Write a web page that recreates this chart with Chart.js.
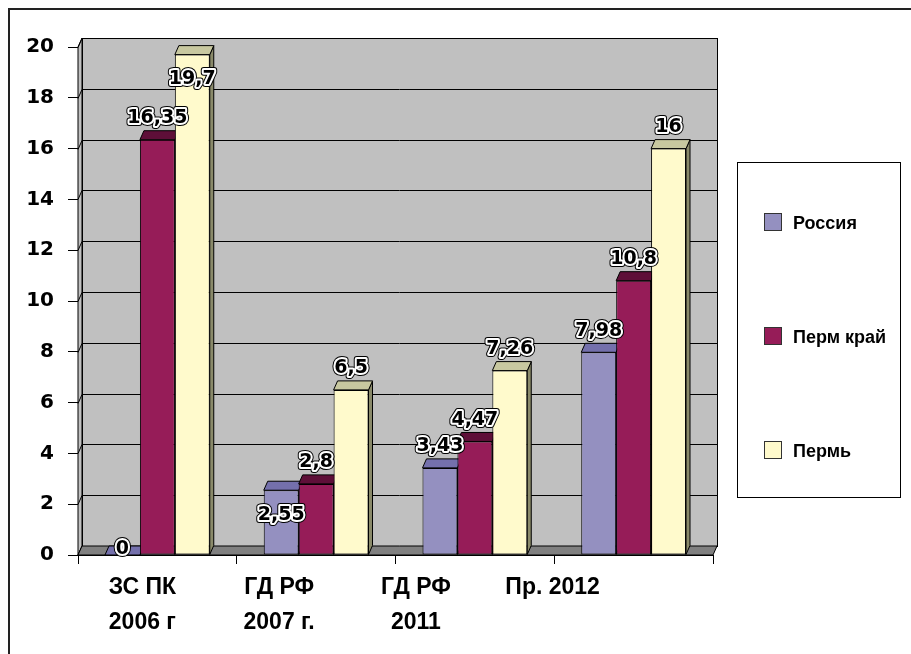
<!DOCTYPE html>
<html>
<head>
<meta charset="utf-8">
<script src="https://cdn.jsdelivr.net/npm/chart.js@4/dist/chart.umd.min.js"></script>
<style>
  html, body { margin: 0; padding: 0; background: #fff; }
  #wrap { width: 911px; height: 654px; }
</style>
</head>
<body>
<div id="wrap"><canvas id="barChart" width="911" height="654"></canvas></div>
<script>
// categories (two-line labels) and series
const categories = [["ЗС ПК", "2006 г"], ["ГД РФ", "2007 г."], ["ГД РФ", "2011"], ["Пр. 2012"]];
const seriesNames = ["Россия", "Перм край", "Пермь"];
const russia = [0, 2.55, 3.43, 7.98];
const permKrai = [16.35, 2.8, 4.47, 10.8];
const perm = [19.7, 6.5, 7.26, 16];
const yTicks = [0, 2, 4, 6, 8, 10, 12, 14, 16, 18, 20];

// colours: front, top, side
const fronts = ["#9490c0", "#961c58", "#fffacc"];
const tops = ["#7470ac", "#5e0f38", "#c8c8a0"];
const sides = ["#625f92", "#4a0a2b", "#8a8a6a"];

const DX = 4, DY = 9; // depth of the fake 3D
const LABEL_FONT = "bold 19px 'DejaVu Sans'";

// white page + frame lines
const framePlugin = {
  id: "frame",
  beforeDraw(chart) {
    const ctx = chart.ctx;
    ctx.save();
    ctx.fillStyle = "#fff";
    ctx.fillRect(0, 0, chart.width, chart.height);
    ctx.strokeStyle = "#222";
    ctx.lineWidth = 2;
    ctx.beginPath();
    ctx.moveTo(9, chart.height);
    ctx.lineTo(9, 9);
    ctx.lineTo(chart.width, 9);
    ctx.stroke();
    ctx.restore();
  }
};

// back wall, floor and gridlines
const wallPlugin = {
  id: "wall",
  beforeDatasetsDraw(chart) {
    const ctx = chart.ctx;
    const { left, right, top, bottom } = chart.chartArea;
    const y = chart.scales.y;
    ctx.save();
    ctx.lineWidth = 1;
    ctx.strokeStyle = "#000";
    // back wall
    ctx.fillStyle = "#c0c0c0";
    ctx.fillRect(left + DX, top - DY, right - left, bottom - top);
    ctx.strokeRect(left + DX + 0.5, top - DY + 0.5, right - left, bottom - top);
    // side wall
    ctx.beginPath();
    ctx.moveTo(left, top);
    ctx.lineTo(left + DX, top - DY);
    ctx.lineTo(left + DX, bottom - DY);
    ctx.lineTo(left, bottom);
    ctx.closePath();
    ctx.fill();
    ctx.stroke();
    // gridlines
    yTicks.forEach(v => {
      const py = Math.round(y.getPixelForValue(v)) + 0.5;
      ctx.beginPath();
      ctx.moveTo(left, py);
      ctx.lineTo(left + DX, py - DY);
      ctx.lineTo(right + DX, py - DY);
      ctx.stroke();
    });
    // floor
    ctx.fillStyle = "#808080";
    ctx.beginPath();
    ctx.moveTo(left, bottom);
    ctx.lineTo(left + DX, bottom - DY);
    ctx.lineTo(right + DX, bottom - DY);
    ctx.lineTo(right, bottom);
    ctx.closePath();
    ctx.fill();
    ctx.stroke();

    // top and side faces of the bars, drawn before the fronts
    chart.data.datasets.forEach((ds, di) => {
      const meta = chart.getDatasetMeta(di);
      meta.data.forEach(bar => {
        const x0 = bar.x - bar.width / 2, x1 = bar.x + bar.width / 2;
        const yt = bar.y, yb = bar.base;
        ctx.fillStyle = sides[di];
        ctx.beginPath();
        ctx.moveTo(x1, yt);
        ctx.lineTo(x1 + DX, yt - DY);
        ctx.lineTo(x1 + DX, yb - DY);
        ctx.lineTo(x1, yb);
        ctx.closePath();
        ctx.fill();
        ctx.stroke();
        ctx.fillStyle = tops[di];
        ctx.beginPath();
        ctx.moveTo(x0, yt);
        ctx.lineTo(x0 + DX, yt - DY);
        ctx.lineTo(x1 + DX, yt - DY);
        ctx.lineTo(x1, yt);
        ctx.closePath();
        ctx.fill();
        ctx.stroke();
      });
    });
    ctx.restore();
  }
};

// value labels with a halo; a label that would leave the plot or hit the
// next bar's label is put inside its bar instead
const labelPlugin = {
  id: "valueLabels",
  afterDatasetsDraw(chart) {
    const ctx = chart.ctx;
    const top = chart.chartArea.top;
    ctx.save();
    ctx.font = LABEL_FONT;
    ctx.textAlign = "center";
    ctx.textBaseline = "bottom";
    ctx.lineJoin = "round";
    const n = chart.data.datasets.length;
    const box = (bar, txt) => {
      const w = ctx.measureText(txt).width;
      const b = bar.y - 12;
      return { l: bar.x - w / 2, r: bar.x + w / 2, t: b - 16, b: b };
    };
    const fmt = v => String(v).replace(".", ",");
    chart.data.datasets.forEach((ds, di) => {
      chart.getDatasetMeta(di).data.forEach((bar, i) => {
        const txt = fmt(ds.data[i]);
        const me = box(bar, txt);
        let inside = me.t < top - DY;
        if (di + 1 < n) {
          const nb = chart.getDatasetMeta(di + 1).data[i];
          const other = box(nb, fmt(chart.data.datasets[di + 1].data[i]));
          if (me.r > other.l && me.l < other.r && me.b > other.t && me.t < other.b) inside = true;
        }
        let ty = inside ? bar.y + 34 : bar.y - 12;
        if (ds.data[i] === 0) ty = bar.y + 4; // empty bar: label sits on the floor
        ctx.lineWidth = 6;
        ctx.strokeStyle = "#000";
        ctx.strokeText(txt, bar.x, ty);
        ctx.lineWidth = 4;
        ctx.strokeStyle = "#fff";
        ctx.strokeText(txt, bar.x, ty);
        ctx.fillStyle = "#000";
        ctx.fillText(txt, bar.x, ty);
      });
    });
    ctx.restore();
  }
};

// category labels, shifted like the perspective of the original
const xLabelPlugin = {
  id: "xLabels",
  afterDraw(chart) {
    const ctx = chart.ctx;
    const x = chart.scales.x;
    ctx.save();
    ctx.font = "bold 23px 'Liberation Sans', Arial";
    ctx.textAlign = "center";
    ctx.textBaseline = "middle";
    ctx.fillStyle = "#000";
    categories.forEach((lines, i) => {
      const cx = x.getPixelForValue(i) - 15 - 22 * i;
      lines.forEach((t, k) => ctx.fillText(t, cx, x.top + 33 + k * 35));
    });
    ctx.restore();
  }
};

// boxed legend on the right
const legendPlugin = {
  id: "boxLegend",
  afterDraw(chart) {
    const ctx = chart.ctx;
    ctx.save();
    ctx.strokeStyle = "#000";
    ctx.lineWidth = 1;
    ctx.strokeRect(737.5, 162.5, 163, 335);
    ctx.font = "bold 18px 'Liberation Sans', Arial";
    ctx.textBaseline = "middle";
    seriesNames.forEach((name, i) => {
      const cy = 222 + i * 114;
      ctx.fillStyle = fronts[i];
      ctx.fillRect(764, cy - 9, 18, 18);
      ctx.strokeStyle = "#333";
      ctx.strokeRect(764.5, cy - 8.5, 17, 17);
      ctx.fillStyle = "#000";
      ctx.fillText(name, 793, cy + 2);
    });
    ctx.restore();
  }
};

new Chart(document.getElementById("barChart").getContext("2d"), {
  type: "bar",
  data: {
    labels: categories,
    datasets: seriesNames.map((name, i) => ({
      label: name,
      data: [russia, permKrai, perm][i],
      backgroundColor: fronts[i],
      borderColor: "#000",
      borderWidth: 1,
      borderSkipped: false,
      categoryPercentage: 0.66,
      barPercentage: 1
    }))
  },
  options: {
    responsive: false,
    animation: false,
    layout: { padding: { left: 0, top: 47, right: 198, bottom: 0 } },
    plugins: {
      legend: { display: false },
      tooltip: { enabled: false }
    },
    scales: {
      x: {
        afterFit(scale) { scale.height = 99; },
        border: { color: "#000", width: 1 },
        grid: { offset: true, drawOnChartArea: false, drawTicks: true, tickLength: 9, color: "#000" },
        ticks: { display: false }
      },
      y: {
        min: 0,
        max: 20,
        afterFit(scale) { scale.width = 78; },
        border: { color: "#000", width: 1 },
        grid: { drawOnChartArea: false, drawTicks: true, tickLength: 10, color: "#000" },
        ticks: {
          stepSize: 2,
          color: "#000",
          font: { family: "'DejaVu Sans'", size: 20, weight: "bold" },
          padding: 14
        }
      }
    }
  },
  plugins: [framePlugin, wallPlugin, labelPlugin, xLabelPlugin, legendPlugin]
});
</script>
</body>
</html>
